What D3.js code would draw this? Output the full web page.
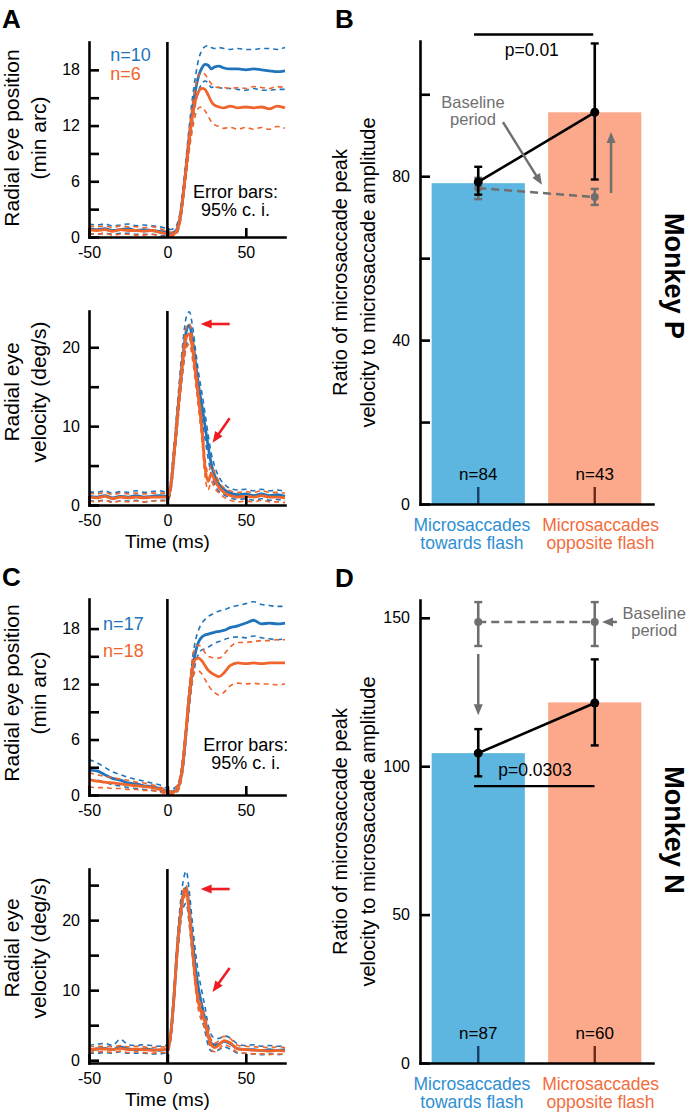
<!DOCTYPE html>
<html><head><meta charset="utf-8">
<script src="https://cdn.jsdelivr.net/npm/d3@7"></script>
<style>
body{margin:0;background:#fff}
svg{display:block}
</style></head><body>
<svg id="chart" width="690" height="1115"></svg>
<script>
// ---------- DATA ----------
const timeMs = [-50,-45,-40,-35,-30,-25,-20,-15,-10,-5,0, 2,4,6,8,10,12,14,16,18,20,22,24,26,28,30, 33,36,40,45,50,55,60,65,70,75];
const timeTicks = [-50,0,50];

// Panel A: position (min arc), Monkey P
const posA_blueMean = [0.9,0.8,0.9,0.7,0.8,0.9,0.7,0.8,0.7,0.6,0.5, 0.4,0.5,0.8,2.0,4.6,7.6,10.8,13.6,15.9,17.4,18.2,18.6,18.5,18.1,18.3, 18.4,18.2,18.1,18.1,18.0,18.1,18.0,17.9,17.8,17.9];
const posA_blueHi   = [1.4,1.3,1.4,1.2,1.3,1.4,1.2,1.3,1.2,1.1,0.9, 0.8,0.9,1.3,2.6,5.4,8.6,12.0,15.0,17.4,19.2,20.1,20.5,20.6,20.4,20.3, 20.4,20.3,20.2,20.3,20.2,20.2,20.3,20.3,20.2,20.4];
const posA_blueLo   = [0.4,0.3,0.4,0.3,0.4,0.4,0.3,0.3,0.3,0.2,0.1, 0.1,0.2,0.4,1.4,3.8,6.6,9.6,12.2,14.4,15.8,16.5,16.8,16.6,16.1,16.2, 16.1,16.0,16.0,15.9,15.8,16.0,15.8,15.8,15.9,15.9];
const posA_orMean   = [0.8,0.7,0.8,0.6,0.8,0.7,0.7,0.6,0.7,0.5,0.3, 0.2,0.3,0.7,1.9,4.4,7.5,10.5,13.0,14.8,15.7,16.0,15.9,15.3,14.6,14.2, 14.0,13.9,14.1,13.9,14.0,13.9,14.0,13.8,14.1,13.9];
const posA_orHi     = [1.2,1.1,1.2,1.0,1.2,1.1,1.1,1.0,1.1,0.9,0.6, 0.5,0.6,1.0,2.4,5.0,8.3,11.6,14.3,16.3,17.4,17.7,17.5,17.0,16.5,16.2, 16.1,16.1,16.0,16.1,16.0,16.2,16.1,16.0,16.2,16.1];
const posA_orLo     = [0.3,0.3,0.4,0.2,0.3,0.3,0.2,0.2,0.3,0.1,0.0, 0.0,0.0,0.4,1.4,3.8,6.7,9.4,11.6,13.2,13.9,14.0,13.6,13.0,12.4,12.1, 11.9,11.7,11.8,11.6,11.8,11.6,11.8,11.6,11.9,11.7];

// Panel A: velocity (deg/s)
const velA_blueMean = [1.1,1.0,1.2,0.9,1.1,1.0,1.2,1.0,1.1,1.2,1.1, 2.2,6.0,10.5,15.0,19.0,22.0,22.8,21.0,18.0,15.0,12.6,10.0,7.4,5.2,3.8, 2.6,2.0,1.5,1.3,1.4,1.2,1.4,1.2,1.3,1.1];
const velA_blueHi   = [1.7,1.6,1.8,1.5,1.7,1.6,1.8,1.6,1.7,1.8,1.6, 2.9,7.0,11.8,16.6,20.8,23.8,24.5,22.7,19.6,16.6,14.2,11.6,8.9,6.5,5.0, 3.5,2.7,2.1,1.9,2.0,1.8,2.0,1.8,1.9,1.7];
const velA_blueLo   = [0.5,0.5,0.6,0.4,0.5,0.5,0.6,0.4,0.5,0.6,0.6, 1.5,5.0,9.2,13.4,17.2,20.2,21.1,19.3,16.4,13.4,11.0,8.4,5.9,3.9,2.7, 1.7,1.3,0.9,0.7,0.8,0.6,0.8,0.6,0.7,0.5];
const velA_orMean   = [1.0,0.9,1.1,0.8,1.0,0.9,1.0,0.9,1.0,1.0,1.0, 2.2,5.8,10.2,14.6,18.6,21.2,21.7,19.8,16.6,13.2,9.5,4.8,3.0,4.0,3.2, 2.2,1.6,1.2,1.0,1.1,1.0,1.2,1.0,1.0,0.9];
const velA_orHi     = [1.5,1.4,1.6,1.3,1.5,1.4,1.5,1.4,1.5,1.5,1.5, 2.8,6.7,11.2,15.8,19.9,22.5,23.0,21.1,17.8,14.4,10.7,5.9,4.1,5.0,4.2, 2.9,2.2,1.8,1.6,1.7,1.6,1.8,1.6,1.6,1.5];
const velA_orLo     = [0.5,0.4,0.6,0.3,0.5,0.4,0.5,0.4,0.5,0.5,0.5, 1.6,4.9,9.2,13.4,17.3,19.9,20.4,18.5,15.4,12.0,8.3,3.7,1.9,3.0,2.2, 1.5,1.0,0.6,0.4,0.5,0.4,0.6,0.4,0.4,0.3];

// Panel C: position (min arc), Monkey N
const posC_blueMean = [2.7,2.6,2.2,1.8,1.6,1.3,1.2,1.0,0.9,0.7,0.4, 0.3,0.4,0.6,1.4,3.5,7.0,10.6,13.6,15.5,16.6,17.1,17.3,17.4,17.5,17.6, 17.7,17.8,18.1,18.3,18.6,18.9,18.5,18.6,18.5,18.6];
const posC_blueHi   = [3.8,3.5,3.0,2.5,2.2,1.9,1.7,1.5,1.3,1.1,0.7, 0.6,0.7,1.0,1.9,4.2,7.8,11.6,14.8,16.8,17.9,18.6,19.0,19.3,19.5,19.7, 19.9,20.0,20.3,20.5,20.7,20.9,20.6,20.5,20.4,20.4];
const posC_blueLo   = [1.6,1.6,1.4,1.1,1.0,0.8,0.7,0.6,0.5,0.4,0.1, 0.0,0.1,0.3,1.0,2.8,6.2,9.6,12.4,14.3,15.3,15.7,15.8,16.0,16.2,16.4, 16.6,16.8,17.0,17.1,17.0,17.2,17.0,16.9,16.8,16.9];
const posC_orMean   = [1.7,1.5,1.4,1.3,1.2,1.1,1.0,0.9,0.8,0.6,0.3, 0.2,0.3,0.6,1.4,3.6,7.2,10.8,13.6,14.7,14.8,14.5,14.0,13.5,13.2,13.0, 12.8,13.2,14.0,14.3,14.2,14.3,14.2,14.3,14.3,14.3];
const posC_orHi     = [2.4,2.2,2.0,1.9,1.7,1.6,1.4,1.3,1.1,0.9,0.5, 0.4,0.6,0.9,1.9,4.3,8.0,11.8,14.8,16.0,16.2,15.9,15.4,15.0,14.9,14.8, 14.8,15.2,16.0,16.5,16.5,16.6,16.7,16.7,16.8,16.8];
const posC_orLo     = [0.9,0.8,0.8,0.7,0.7,0.6,0.6,0.5,0.5,0.3,0.1, 0.0,0.1,0.3,0.9,2.9,6.4,9.8,12.4,13.4,13.4,13.1,12.5,11.9,11.4,11.1, 10.8,11.1,11.8,12.1,12.0,12.1,12.0,12.0,11.9,12.0];

// Panel C: velocity (deg/s)
const velC_blueMean = [1.5,1.6,1.7,1.5,1.9,1.6,1.5,1.6,1.5,1.4,1.6, 3.5,8.5,15.0,20.2,23.5,24.6,21.5,17.0,13.0,10.0,7.8,5.8,3.5,2.4,2.2, 2.3,2.7,2.4,1.6,1.5,1.5,1.4,1.5,1.4,1.5];
const velC_blueHi   = [2.1,2.3,2.4,2.1,3.0,2.2,2.1,2.2,2.1,2.0,2.2, 4.3,9.5,16.3,21.8,25.5,27.0,24.0,19.5,15.3,12.2,9.8,7.6,5.0,3.6,3.2, 3.1,3.5,3.2,2.3,2.1,2.2,2.0,2.1,2.0,2.1];
const velC_blueLo   = [1.0,1.0,1.1,1.0,1.2,1.0,1.0,1.0,0.9,0.9,1.1, 2.8,7.5,13.8,18.7,21.7,22.4,19.2,14.8,11.0,8.1,6.0,4.1,2.1,1.3,1.3, 1.5,1.9,1.6,1.0,1.0,0.9,0.8,0.9,0.8,0.9];
const velC_orMean   = [1.5,1.6,1.6,1.5,1.7,1.5,1.6,1.5,1.4,1.5,1.5, 3.4,8.4,14.8,20.0,23.3,24.3,20.8,15.8,11.0,8.0,6.6,5.4,3.6,2.2,1.8, 2.2,2.8,2.5,1.6,1.5,1.4,1.4,1.3,1.4,1.3];
const velC_orHi     = [1.9,2.0,2.0,1.9,2.1,1.9,2.0,1.9,1.8,1.9,1.9, 3.9,9.0,15.5,20.8,24.1,25.0,21.6,16.7,12.0,9.1,7.6,6.3,4.4,2.9,2.4, 2.8,3.4,3.1,2.1,2.0,1.9,1.9,1.8,1.9,1.8];
const velC_orLo     = [1.1,1.2,1.2,1.1,1.3,1.1,1.2,1.1,1.0,1.1,1.1, 2.9,7.8,14.1,19.2,22.5,23.6,20.0,14.9,10.0,6.9,5.6,4.5,2.8,1.5,1.2, 1.6,2.2,1.9,1.1,1.0,0.9,0.9,0.8,0.9,0.8];

const posTicks = [0,3,6,9,12,15,18];
const posTickLabels = [0,6,12,18];
const velTicksA = [0,5,10,15,20];
const velTicksC = [0,5,10,15,20,25];
const velTickLabels = [0,10,20];

// Bar panels
const barCategories = ["towards","opposite"];
const barLabelLines = [["Microsaccades","towards flash"],["Microsaccades","opposite flash"]];

const monkeyP_bar    = [78.3, 95.6];
const monkeyP_mean   = [78.6, 95.6];
const monkeyP_errLo  = [75.5, 79.2];
const monkeyP_errHi  = [82.3, 112.4];
const monkeyP_base   = [77.1, 74.9];
const monkeyP_baseLo = [74.4, 73.0];
const monkeyP_baseHi = [79.6, 76.9];
const monkeyP_n      = [84, 43];
const monkeyP_ticks  = [0,20,40,60,80,100];
const monkeyP_tickLabels = [0,40,80];

const monkeyN_bar    = [104.4, 121.5];
const monkeyN_mean   = [104.4, 121.3];
const monkeyN_errLo  = [96.6, 107.0];
const monkeyN_errHi  = [112.5, 136.0];
const monkeyN_base   = [148.6, 148.6];
const monkeyN_baseLo = [140.5, 140.5];
const monkeyN_baseHi = [155.3, 155.3];
const monkeyN_n      = [87, 60];
const monkeyN_ticks  = [0,50,100,150];
const monkeyN_tickLabels = [0,50,100,150];

// ---------- DRAWING ----------
const FONT = '"Liberation Sans", Arial, Helvetica, sans-serif';
const COL = {blue:"#1f74bb", orange:"#f0652b", barBlue:"#5cb6e0", barOrange:"#fca98b",
  txtBlue:"#2f8fd3", txtOrange:"#f26d3d", gray:"#6f6f6f", red:"#ee1d23",
  darkBlue:"#173f63", darkRed:"#6e2512"};
const svg = d3.select("#chart").attr("font-family", FONT);
const fmt = d => String(d); // plain hyphen-minus like the original

function arrow(g, x1, y1, x2, y2, color, len = 11, w = 9, sw = 2.5) {
  const dx = x2 - x1, dy = y2 - y1, L = Math.hypot(dx, dy), ux = dx / L, uy = dy / L;
  const bx = x2 - ux * len, by = y2 - uy * len;
  g.append("line").attr("x1", x1).attr("y1", y1).attr("x2", bx + ux).attr("y2", by + uy)
    .attr("stroke", color).attr("stroke-width", sw);
  g.append("path").attr("d", `M${x2},${y2}L${bx - uy * w / 2},${by + ux * w / 2}L${bx + uy * w / 2},${by - ux * w / 2}Z`)
    .attr("fill", color);
}

function styleAxis(sel) {
  sel.attr("font-family", FONT).attr("font-size", 16);
  sel.select(".domain").attr("stroke", "#000").attr("stroke-width", 2.6).attr("stroke-linecap", "square");
  sel.selectAll(".tick line").attr("stroke", "#000").attr("stroke-width", 2.6);
  sel.selectAll(".tick text").attr("fill", "#000");
}

function timePanel(o) {
  const g = svg.append("g");
  const x = d3.scaleLinear().domain([-50, 75]).range([89, 285]);
  const y = d3.scaleLinear().domain(o.yDomain).range([o.bottom, o.top]);
  const lineGen = d3.line().x((d, i) => x(timeMs[i])).y(d => y(d)).curve(d3.curveMonotoneX);
  [[o.blue, COL.blue], [o.orange, COL.orange]].forEach(([s, c]) => {
    [s.hi, s.lo].forEach(v => g.append("path").attr("d", lineGen(v)).attr("fill", "none")
      .attr("stroke", c).attr("stroke-width", 1.6).attr("stroke-dasharray", "5,4"));
    g.append("path").attr("d", lineGen(s.mean)).attr("fill", "none")
      .attr("stroke", c).attr("stroke-width", 2.8).attr("stroke-linejoin", "round");
  });
  g.append("g").attr("transform", "translate(89,0)")
    .call(d3.axisLeft(y).tickValues(o.yTicks).tickSize(-10).tickSizeOuter(0).tickPadding(9)
      .tickFormat(d => o.yTickLabels.includes(d) ? fmt(d) : ""))
    .call(styleAxis);
  g.append("g").attr("transform", `translate(0,${o.bottom})`)
    .call(d3.axisBottom(x).tickValues(timeTicks).tickSize(-9).tickSizeOuter(0).tickPadding(10).tickFormat(fmt))
    .call(styleAxis);
  g.append("line").attr("x1", x(0)).attr("x2", x(0)).attr("y1", o.top).attr("y2", o.bottom)
    .attr("stroke", "#000").attr("stroke-width", 2.6);
  o.yLabel.forEach((t, i) => g.append("text")
    .attr("transform", `translate(${[19, 46][i]},${o.labelY}) rotate(-90)`)
    .attr("text-anchor", "middle").attr("font-size", 21).attr("fill", "#000").text(t));
  if (o.timeLabel) g.append("text").attr("x", x(0)).attr("y", o.bottom + 43)
    .attr("text-anchor", "middle").attr("font-size", 19).text("Time (ms)");
  if (o.nLabels) {
    g.append("text").attr("x", x(o.nLabels.t)).attr("y", y(o.nLabels.v[0])).attr("font-size", 18)
      .attr("fill", COL.blue).text(o.nLabels.text[0]);
    g.append("text").attr("x", x(o.nLabels.t)).attr("y", y(o.nLabels.v[1])).attr("font-size", 18)
      .attr("fill", COL.orange).text(o.nLabels.text[1]);
  }
  if (o.errNote) {
    ["Error bars:", "95% c. i."].forEach((t, i) => g.append("text").attr("x", x(o.errNote.t))
      .attr("y", y(o.errNote.v) + i * 18).attr("text-anchor", "middle").attr("font-size", 18).text(t));
  }
  if (o.redArrows) o.redArrows.forEach(a => arrow(g, x(a[0]), y(a[1]), x(a[2]), y(a[3]), COL.red, 11, 9, 2.6));
}

function barPanel(o) {
  const g = svg.append("g");
  const x = d3.scaleBand().domain(barCategories).range([420, 653]).paddingInner(0.2).paddingOuter(0.1);
  const y = d3.scaleLinear().domain(o.yDomain).range([o.bottom, o.top]);
  const xi = d3.scaleLinear().domain([0, 1])
    .range([x(barCategories[0]) + x.bandwidth() / 2, x(barCategories[1]) + x.bandwidth() / 2]);
  const fills = [COL.barBlue, COL.barOrange];
  g.selectAll("rect.bar").data(o.bar).enter().append("rect")
    .attr("x", (d, i) => x(barCategories[i])).attr("width", x.bandwidth())
    .attr("y", d => y(d)).attr("height", d => y(0) - y(d)).attr("fill", (d, i) => fills[i]);
  [COL.darkBlue, COL.darkRed].forEach((c, i) => g.append("line").attr("x1", xi(i)).attr("x2", xi(i))
    .attr("y1", y(0)).attr("y2", y(0) - 17).attr("stroke", c).attr("stroke-width", 2.4));
  o.n.forEach((n, i) => g.append("text").attr("x", xi(i)).attr("y", y(0) - 24)
    .attr("text-anchor", "middle").attr("font-size", 17).text("n=" + n));
  // baseline (gray)
  g.append("line").attr("x1", xi(0)).attr("x2", xi(1)).attr("y1", y(o.base[0])).attr("y2", y(o.base[1]))
    .attr("stroke", COL.gray).attr("stroke-width", 2.5).attr("stroke-dasharray", "8,5");
  o.base.forEach((v, i) => {
    g.append("line").attr("x1", xi(i)).attr("x2", xi(i)).attr("y1", y(o.baseLo[i])).attr("y2", y(o.baseHi[i]))
      .attr("stroke", COL.gray).attr("stroke-width", 2.6);
    [o.baseLo[i], o.baseHi[i]].forEach(e => g.append("line").attr("x1", xi(i) - 4).attr("x2", xi(i) + 4)
      .attr("y1", y(e)).attr("y2", y(e)).attr("stroke", COL.gray).attr("stroke-width", 2.4));
    g.append("circle").attr("cx", xi(i)).attr("cy", y(v)).attr("r", 4).attr("fill", COL.gray);
  });
  // flash period (black)
  g.append("line").attr("x1", xi(0)).attr("x2", xi(1)).attr("y1", y(o.mean[0])).attr("y2", y(o.mean[1]))
    .attr("stroke", "#000").attr("stroke-width", 2.6);
  o.mean.forEach((v, i) => {
    g.append("line").attr("x1", xi(i)).attr("x2", xi(i)).attr("y1", y(o.errLo[i])).attr("y2", y(o.errHi[i]))
      .attr("stroke", "#000").attr("stroke-width", 2.6);
    [o.errLo[i], o.errHi[i]].forEach(e => g.append("line").attr("x1", xi(i) - 4).attr("x2", xi(i) + 4)
      .attr("y1", y(e)).attr("y2", y(e)).attr("stroke", "#000").attr("stroke-width", 2.4));
    g.append("circle").attr("cx", xi(i)).attr("cy", y(v)).attr("r", 4.5).attr("fill", "#000");
  });
  // significance
  g.append("line").attr("x1", xi(-0.036)).attr("x2", xi(o.sigEnd)).attr("y1", y(o.sigY)).attr("y2", y(o.sigY))
    .attr("stroke", "#000").attr("stroke-width", 2.4);
  g.append("text").attr("x", xi(o.pX)).attr("y", y(o.sigY) + o.pDy).attr("text-anchor", "middle")
    .attr("font-size", 17.5).text(o.pText);
  // baseline annotation
  ["Baseline", "period"].forEach((t, i) => g.append("text").attr("x", xi(o.baseNote.x))
    .attr("y", y(o.baseNote.v) + i * 17).attr("text-anchor", "middle").attr("font-size", 16.5)
    .attr("fill", COL.gray).text(t));
  o.grayArrows.forEach(a => arrow(g, xi(a[0]), y(a[1]), xi(a[2]), y(a[3]), COL.gray, 11, 9, 2.5));
  // axes
  g.append("g").attr("transform", "translate(420,0)")
    .call(d3.axisLeft(y).tickValues(o.ticks).tickSize(-10).tickSizeOuter(0).tickPadding(10)
      .tickFormat(d => o.tickLabels.includes(d) ? fmt(d) : ""))
    .call(styleAxis);
  g.append("g").attr("transform", `translate(0,${o.bottom})`)
    .call(d3.axisBottom(x).tickValues([]).tickSizeOuter(0)).call(styleAxis);
  // category labels
  [[-0.055, COL.txtBlue], [1.05, COL.txtOrange]].forEach(([p, c], i) =>
    barLabelLines[i].forEach((t, j) => g.append("text").attr("x", xi(p)).attr("y", y(0) + 27 + j * 18)
      .attr("text-anchor", "middle").attr("font-size", 17.5).attr("fill", c).text(t)));
  // y label
  ["Ratio of microsaccade peak", "velocity to microsaccade amplitude"].forEach((t, i) =>
    g.append("text").attr("transform", `translate(${[347, 375][i]},${(o.top + o.bottom) / 2}) rotate(-90)`)
      .attr("text-anchor", "middle").attr("font-size", 20).text(t));
  g.append("text").attr("transform", `translate(665,${o.monkeyY}) rotate(90)`)
    .attr("text-anchor", "middle").attr("font-size", 27).attr("font-weight", "bold").text(o.monkey);
}

timePanel({top: 42, bottom: 237, yDomain: [0, 21], yTicks: posTicks, yTickLabels: posTickLabels,
  blue: {mean: posA_blueMean, hi: posA_blueHi, lo: posA_blueLo},
  orange: {mean: posA_orMean, hi: posA_orHi, lo: posA_orLo},
  yLabel: ["Radial eye position", "(min arc)"], labelY: 138,
  nLabels: {t: -36.5, v: [19.0, 16.9], text: ["n=10", "n=6"]},
  errNote: {t: 43.5, v: 4.2}});
timePanel({top: 311, bottom: 505, yDomain: [0, 24.6], yTicks: velTicksA, yTickLabels: velTickLabels,
  blue: {mean: velA_blueMean, hi: velA_blueHi, lo: velA_blueLo},
  orange: {mean: velA_orMean, hi: velA_orHi, lo: velA_orLo},
  yLabel: ["Radial eye", "velocity (deg/s)"], labelY: 392, timeLabel: true,
  redArrows: [[39.7, 22.95, 21.2, 22.95], [39.7, 11.0, 28.8, 7.9]]});
timePanel({top: 599, bottom: 795, yDomain: [0, 21.2], yTicks: posTicks, yTickLabels: posTickLabels,
  blue: {mean: posC_blueMean, hi: posC_blueHi, lo: posC_blueLo},
  orange: {mean: posC_orMean, hi: posC_orHi, lo: posC_orLo},
  yLabel: ["Radial eye position", "(min arc)"], labelY: 693,
  nLabels: {t: -41, v: [17.85, 14.9], text: ["n=17", "n=18"]},
  errNote: {t: 50, v: 4.76}});
timePanel({top: 869, bottom: 1063, yDomain: [-0.4, 27.3], yTicks: velTicksC, yTickLabels: velTickLabels,
  blue: {mean: velC_blueMean, hi: velC_blueHi, lo: velC_blueLo},
  orange: {mean: velC_orMean, hi: velC_orHi, lo: velC_orLo},
  yLabel: ["Radial eye", "velocity (deg/s)"], labelY: 948, timeLabel: true,
  redArrows: [[39.7, 24.44, 21.2, 24.44], [39.7, 13.16, 28.8, 9.74]]});

barPanel({top: 41, bottom: 504, yDomain: [0, 113], ticks: monkeyP_ticks, tickLabels: monkeyP_tickLabels,
  bar: monkeyP_bar, mean: monkeyP_mean, errLo: monkeyP_errLo, errHi: monkeyP_errHi,
  base: monkeyP_base, baseLo: monkeyP_baseLo, baseHi: monkeyP_baseHi, n: monkeyP_n,
  sigY: 114.6, sigEnd: 0.987, pX: 0.46, pDy: 22, pText: "p=0.01",
  baseNote: {x: -0.045, v: 96.6},
  grayArrows: [[0.212, 93.2, 0.547, 77.9], [1.14, 75.9, 1.14, 90.8]],
  monkey: "Monkey P", monkeyY: 276});
barPanel({top: 600, bottom: 1063, yDomain: [0, 156], ticks: monkeyN_ticks, tickLabels: monkeyN_tickLabels,
  bar: monkeyN_bar, mean: monkeyN_mean, errLo: monkeyN_errLo, errHi: monkeyN_errHi,
  base: monkeyN_base, baseLo: monkeyN_baseLo, baseHi: monkeyN_baseHi, n: monkeyN_n,
  sigY: 93.3, sigEnd: 0.998, pX: 0.487, pDy: -10, pText: "p=0.0303",
  baseNote: {x: 1.51, v: 149.7},
  grayArrows: [[0, 137.8, 0, 117.2], [1.19, 148.6, 1.062, 148.6]],
  monkey: "Monkey N", monkeyY: 830});

// panel letters
[["A", 2, 28], ["B", 335, 28], ["C", 2, 586], ["D", 335, 587]].forEach(([t, x, y]) =>
  svg.append("text").attr("x", x).attr("y", y).attr("font-size", 26).attr("font-weight", "bold").text(t));
</script>
</body></html>
